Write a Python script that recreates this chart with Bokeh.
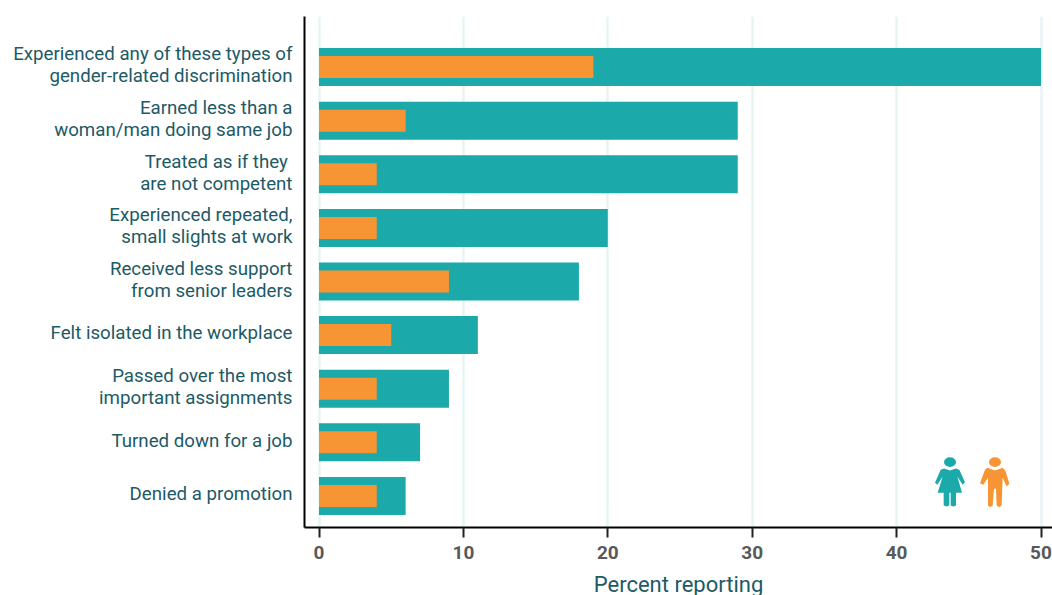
from bokeh.plotting import figure
from bokeh.models import Range1d, FixedTicker
from bokeh.embed import file_html
from bokeh.resources import INLINE

categories = [
    "Experienced any of these types of\ngender-related discrimination",
    "Earned less than a\nwoman/man doing same job",
    "Treated as if they \nare not competent",
    "Experienced repeated,\nsmall slights at work",
    "Received less support\nfrom senior leaders",
    "Felt isolated in the workplace",
    "Passed over the most\nimportant assignments",
    "Turned down for a job",
    "Denied a promotion",
]
women = [50, 29, 29, 20, 18, 11, 9, 7, 6]
men = [19, 6, 4, 4, 9, 5, 4, 4, 4]
x_ticks = [0, 10, 20, 30, 40, 50]
axis_title = "Percent reporting"

TEAL = "#1ba9a9"
ORANGE = "#f79433"
TEXT = "#1d5a66"
FONT = "Roboto"

frame_w, frame_h = 748, 511
px_x = 14.44
px_y = 53.6
x0_px, y0_px = 304.5, 16
first_row_px, zero_px = 66.6, 319
label_lift = 0.03  # labels sit slightly above the bar centres

p = figure(width=1052, height=595, output_backend="svg", toolbar_location=None,
           frame_width=frame_w, frame_height=frame_h,
           x_range=Range1d((x0_px - zero_px) / px_x, (x0_px + frame_w - zero_px) / px_x),
           y_range=Range1d((y0_px + frame_h - first_row_px) / px_y, (y0_px - first_row_px) / px_y),
           min_border_left=304, min_border_right=0, min_border_top=16, min_border_bottom=68)
p.outline_line_color = None
p.background_fill_color = "white"

rows = list(range(len(categories)))
p.hbar(y=rows, right=women, left=0, height=38 / px_y, color=TEAL, line_color=None)
p.hbar(y=rows, right=men, left=0, height=22 / px_y, color=ORANGE, line_color=None)

# pictograms, outlined in page pixels and converted to data space
def to_x(vals):
    return [(900 + v / 3 - zero_px) / px_x for v in vals]

def to_y(vals):
    return [(440 + v / 3 - first_row_px) / px_y for v in vals]

woman_xy = [(132,84),(150,90),(168,84),(178,88),(195,125),(188,133),(172,108),(186,157),(168,157),
            (168,195),(160,198),(152,195),(152,157),(148,157),(148,195),(140,198),(131,195),(131,157),
            (113,157),(128,108),(112,133),(105,127),(122,88)]
man_xy = [(262,82),(285,90),(308,82),(316,90),(328,130),(320,138),(308,112),(305,195),(298,200),
          (290,195),(288,145),(282,145),(278,195),(270,200),(264,195),(264,112),(250,133),(240,128),(255,88)]
for xy, col, head in ((woman_xy, TEAL, (150, 65)), (man_xy, ORANGE, (285, 65))):
    p.patch(to_x([a for a, _ in xy]), to_y([b for _, b in xy]), color=col, line_color=None)
    p.ellipse(to_x([head[0]]), to_y([head[1]]), width=36 / 3 / px_x, height=29 / 3 / px_y,
              color=col, line_color=None)

p.xaxis.ticker = FixedTicker(ticks=x_ticks)
p.xaxis.axis_label = axis_title
p.xaxis.axis_label_text_font = FONT
p.xaxis.axis_label_text_font_size = "22px"
p.xaxis.axis_label_text_font_style = "normal"
p.xaxis.axis_label_text_color = TEXT
p.xaxis.axis_label_standoff = 10
p.xaxis.major_label_text_font = FONT
p.xaxis.major_label_text_font_size = "19px"
p.xaxis.major_label_text_font_style = "bold"
p.xaxis.major_label_text_color = "#58595b"
p.xaxis.major_label_standoff = 8
p.xaxis.axis_line_color = "black"
p.xaxis.axis_line_width = 2
p.xaxis.major_tick_line_color = "#222222"
p.xaxis.major_tick_line_width = 2
p.xaxis.major_tick_out = 10
p.xaxis.major_tick_in = 0
p.xaxis.minor_tick_line_color = None

label_rows = [r - label_lift for r in rows]
p.yaxis.ticker = FixedTicker(ticks=label_rows)
p.yaxis.major_label_overrides = {t: c for t, c in zip(label_rows, categories)}
p.yaxis.major_label_text_font = FONT
p.yaxis.major_label_text_font_size = "18.7px"
p.yaxis.major_label_text_line_height = 1.0
p.yaxis.major_label_text_color = TEXT
p.yaxis.major_label_standoff = 6
p.yaxis.axis_line_color = "black"
p.yaxis.axis_line_width = 2
p.yaxis.major_tick_line_color = None
p.yaxis.minor_tick_line_color = None

p.ygrid.grid_line_color = None
p.xgrid.ticker = FixedTicker(ticks=x_ticks)
p.xgrid.grid_line_color = "#e8f4f4"
p.xgrid.grid_line_width = 2.5

open("out.html", "w").write(file_html(p, INLINE))
